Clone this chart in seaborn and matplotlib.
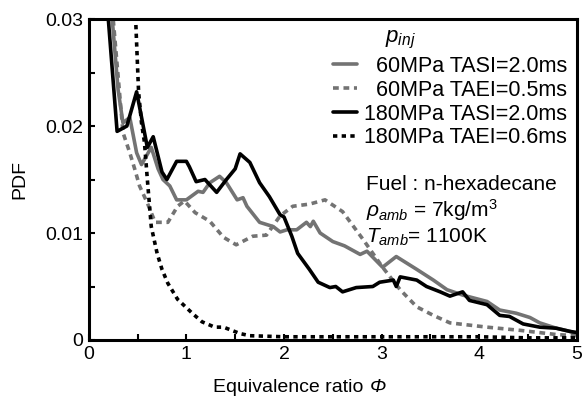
import matplotlib
matplotlib.use("Agg")
import matplotlib.pyplot as plt
import seaborn as sns
import pandas as pd
from matplotlib.ticker import FixedLocator, FuncFormatter

# Equivalence-ratio PDFs, four injection cases
phi_60_tasi = [0.18, 0.24, 0.30, 0.35, 0.42, 0.49, 0.54, 0.64, 0.71, 0.76, 0.83, 0.90, 1.00,
               1.12, 1.17, 1.24, 1.34, 1.41, 1.52, 1.58, 1.62, 1.75, 1.89, 1.96, 2.03, 2.13,
               2.23, 2.27, 2.30, 2.37, 2.50, 2.62, 2.78, 2.85, 3.01, 3.15, 3.36, 3.53, 3.67,
               3.83, 4.08, 4.21, 4.38, 4.52, 4.62, 4.79, 4.93, 5.00]
pdf_60_tasi = [0.036, 0.030, 0.0234, 0.0203, 0.0208, 0.0175, 0.0164, 0.0180, 0.0160, 0.0150,
               0.0144, 0.0131, 0.0131, 0.0139, 0.0138, 0.0147, 0.0153, 0.0147, 0.0131, 0.0133,
               0.0125, 0.0110, 0.0106, 0.0101, 0.0103, 0.0103, 0.0110, 0.0106, 0.0111, 0.0100,
               0.0092, 0.0088, 0.0080, 0.0083, 0.0068, 0.0078, 0.0066, 0.0056, 0.0047, 0.0042,
               0.0036, 0.0028, 0.0025, 0.0021, 0.0016, 0.0011, 0.0008, 0.0006]

phi_60_taei = [0.20, 0.25, 0.35, 0.42, 0.47, 0.52, 0.60, 0.64, 0.68, 0.81, 0.91, 0.98, 1.09,
               1.24, 1.38, 1.51, 1.68, 1.82, 1.96, 2.09, 2.26, 2.42, 2.60, 2.81, 3.01, 3.19,
               3.36, 3.53, 3.70, 4.08, 4.42, 4.80, 5.00]
pdf_60_taei = [0.036, 0.030, 0.0194, 0.0175, 0.0160, 0.0144, 0.0128, 0.0119, 0.0110, 0.0110,
               0.0125, 0.0130, 0.0119, 0.0111, 0.0096, 0.0089, 0.0097, 0.0098, 0.0116, 0.0125,
               0.0127, 0.0131, 0.0120, 0.0094, 0.0068, 0.0047, 0.0031, 0.0023, 0.0016, 0.0012,
               0.0009, 0.0005, 0.0004]

phi_180_tasi = [0.15, 0.20, 0.29, 0.39, 0.49, 0.60, 0.66, 0.75, 0.80, 0.90, 1.00, 1.03, 1.10,
                1.19, 1.31, 1.41, 1.50, 1.55, 1.65, 1.75, 1.85, 1.96, 2.00, 2.08, 2.14, 2.26,
                2.35, 2.47, 2.53, 2.60, 2.74, 2.91, 2.98, 3.12, 3.15, 3.19, 3.36, 3.46, 3.60,
                3.70, 3.83, 3.90, 4.08, 4.21, 4.31, 4.45, 4.62, 4.79, 4.93, 5.00]
pdf_180_tasi = [0.036, 0.030, 0.0195, 0.0200, 0.0232, 0.0180, 0.0190, 0.0157, 0.0150, 0.0167,
                0.0167, 0.0162, 0.0148, 0.0150, 0.0138, 0.0150, 0.0160, 0.0174, 0.0166, 0.0147,
                0.0134, 0.0117, 0.0115, 0.0097, 0.0081, 0.0066, 0.0054, 0.0049, 0.0050, 0.0045,
                0.0049, 0.0050, 0.0054, 0.0056, 0.0050, 0.0059, 0.0056, 0.0050, 0.0045, 0.0041,
                0.0045, 0.0037, 0.0033, 0.0023, 0.0022, 0.0015, 0.0012, 0.0011, 0.0008, 0.0007]

phi_180_taei = [0.47, 0.48, 0.51, 0.54, 0.57, 0.60, 0.64, 0.70, 0.75, 0.81, 0.91, 1.06, 1.16,
                1.29, 1.38, 1.55, 1.65, 2.00, 2.50, 3.00, 3.50, 4.00, 4.50, 5.00]
pdf_180_taei = [0.036, 0.030, 0.0232, 0.0203, 0.0185, 0.0150, 0.0106, 0.0081, 0.0066, 0.0053,
                0.0038, 0.0025, 0.0017, 0.0012, 0.0012, 0.0006, 0.0004, 0.0003, 0.0003, 0.0003,
                0.0003, 0.0003, 0.0002, 0.0002]

labels = ["  60MPa TASI=2.0ms", "  60MPa TAEI=0.5ms", "180MPa TASI=2.0ms", "180MPa TAEI=0.6ms"]
x_ticks = [0, 1, 2, 3, 4, 5]
y_ticks = [0, 0.01, 0.02, 0.03]

sns.set_theme(style="white")
plt.rcParams["font.family"] = ["Liberation Sans", "DejaVu Sans"]
plt.rcParams["mathtext.fontset"] = "custom"
plt.rcParams["mathtext.rm"] = "Liberation Sans"
plt.rcParams["mathtext.it"] = "Liberation Sans:italic"

fig = plt.figure(figsize=(5.88, 3.97), dpi=100)
ax = fig.add_axes([0.151, 0.1436, 0.830, 0.8084])

gray = "#737373"
gray_dash = (0, (1.6, 1.3))
black_dot = (0, (1.2, 1.2))
series = [
    (phi_60_tasi, pdf_60_tasi, gray, "-"),
    (phi_60_taei, pdf_60_taei, gray, gray_dash),
    (phi_180_tasi, pdf_180_tasi, "black", "-"),
    (phi_180_taei, pdf_180_taei, "black", black_dot),
]
for (xs, ys, col, ls), lab in zip(series, labels):
    df = pd.DataFrame({"phi": xs, "pdf": ys})
    sns.lineplot(data=df, x="phi", y="pdf", ax=ax, color=col, linestyle=ls,
                 linewidth=2.6, label=lab, sort=False)

ax.set_xlim(0, 5)
ax.set_ylim(0, 0.03)
ax.xaxis.set_major_locator(FixedLocator(x_ticks))
ax.xaxis.set_minor_locator(FixedLocator([0.5, 1.5, 2.5, 3.5, 4.5]))
ax.yaxis.set_major_locator(FixedLocator(y_ticks))
ax.yaxis.set_minor_locator(FixedLocator([0.005, 0.015, 0.025]))
ax.xaxis.set_major_formatter(FuncFormatter(lambda v, p: f"{v:g}"))
ax.yaxis.set_major_formatter(FuncFormatter(lambda v, p: f"{v:g}"))
ax.tick_params(which="both", direction="in", length=4, width=1.5, colors="black",
               labelsize=14, pad=4, bottom=True, left=True)
for s in ax.spines.values():
    s.set_linewidth(2.2)
    s.set_color("black")

# x label: upright words followed by an italic Phi
ax.set_xlabel("")
xl = ax.text(0.254, -0.162, "Equivalence ratio ", transform=ax.transAxes, fontsize=14,
             ha="left", va="baseline", color="black")
ax.annotate("\u03A6", xy=(1, 0), xycoords=xl, xytext=(1, 0), textcoords="offset points",
            fontsize=14, fontstyle="italic", ha="left", va="bottom", color="black")
ax.set_ylabel("PDF", fontsize=14, color="black", labelpad=12)

leg = ax.legend(loc="upper right", bbox_to_anchor=(0.98, 0.885), frameon=False, fontsize=15.5,
                handlelength=1.15, handletextpad=0.3, labelspacing=0.13, borderaxespad=0,
                borderpad=0)
for t in leg.get_texts():
    t.set_color("black")

ax.text(0.607, 0.97, "$p_{inj}$", transform=ax.transAxes, fontsize=16,
        ha="left", va="top", color="black")

ax.text(0.567, 0.467, "Fuel : n-hexadecane", transform=ax.transAxes, fontsize=15,
        ha="left", va="baseline", color="black")
ax.text(0.567, 0.383, "$\\rho_{amb}$ = 7kg/m$^3$", transform=ax.transAxes, fontsize=15,
        ha="left", va="baseline", color="black")
ax.text(0.567, 0.302, "$T_{amb}$= 1100K", transform=ax.transAxes, fontsize=15,
        ha="left", va="baseline", color="black")

fig.savefig("out.png", dpi=100)
